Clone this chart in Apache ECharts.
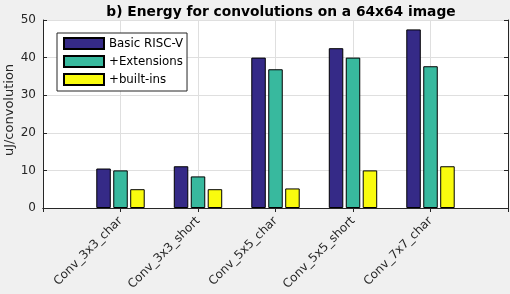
<!DOCTYPE html>
<html><head><meta charset="utf-8">
<script src="https://cdn.jsdelivr.net/npm/echarts@6/dist/echarts.min.js"></script>
<style>html,body{margin:0;padding:0;background:#f0f0f0}#c{width:510px;height:294px}</style>
</head><body><div id="c"></div>
<script>
const categories = ['Conv_3x3_char','Conv_3x3_short','Conv_5x5_char','Conv_5x5_short','Conv_7x7_char'];
const basicRiscV = [10.5, 11.1, 40.0, 42.5, 47.5];
const extensions = [10.0, 8.4, 36.9, 40.0, 37.7];
const builtIns = [5.0, 5.0, 5.2, 10.0, 11.1];
const yTicks = [0, 10, 20, 30, 40, 50];
const yAxisTitle = 'uJ/convolution';

const FONT = 'DejaVu Sans';
const pad = arr => [null, ...arr, null];
const axisCats = ['', ...categories, ''];
const chart = echarts.init(document.getElementById('c'), null, {renderer: 'canvas'});
const lineStyle = {color: '#262626', width: 1};
const barBase = (name, data, color) => ({
  name, type: 'bar', data: pad(data), barWidth: 14.5, barGap: '17%',
  itemStyle: {color, borderColor: '#000', borderWidth: 1},
  xAxisIndex: 0, yAxisIndex: 0, animation: false
});
chart.setOption({
  backgroundColor: '#f0f0f0',
  animation: false,
  title: {
    text: 'b) Energy for convolutions on a 64x64 image',
    left: 276, top: 0, textAlign: 'center',
    textStyle: {fontFamily: FONT, fontSize: 13.8, fontWeight: 'bold', color: '#000'}
  },
  graphic: [{
    type: 'text', x: 10, y: 110, rotation: Math.PI / 2,
    style: {text: yAxisTitle, font: '13px "DejaVu Sans"', fill: '#262626',
      align: 'center', verticalAlign: 'middle'}
  }],
  legend: {
    orient: 'vertical', left: 57, top: 33,
    itemWidth: 40, itemHeight: 11, itemGap: 5, itemTextGap: 5,
    padding: [4, 4, 5, 6],
    backgroundColor: '#fff', borderColor: '#262626', borderWidth: 1, borderRadius: 0,
    icon: 'rect',
    textStyle: {fontFamily: FONT, fontSize: 11.8, color: '#000'},
    data: ['Basic RISC-V', '+Extensions', '+built-ins']
  },
  grid: {left: 43, right: 2, top: 20, bottom: 86, show: true, backgroundColor: '#fff', borderWidth: 0,
    containLabel: false, outerBoundsMode: 'none'},
  xAxis: [{
    type: 'category', data: axisCats, boundaryGap: false,
    axisLine: {lineStyle}, axisTick: {inside: true, length: 4, interval: 0, lineStyle},
    splitLine: {show: true, interval: 0, lineStyle: {color: '#dfdfdf'}},
    axisLabel: {interval: 0, rotate: 45, margin: 11, fontFamily: FONT, fontSize: 12, color: '#262626'}
  }, {
    type: 'category', data: axisCats, boundaryGap: false, position: 'top',
    axisLine: {lineStyle}, axisTick: {inside: true, length: 4, interval: 0, lineStyle},
    axisLabel: {show: false}, splitLine: {show: false}
  }],
  yAxis: [{
    type: 'value', min: 0, max: 50, interval: 10,
    axisLine: {show: true, lineStyle}, axisTick: {show: true, inside: true, length: 4, lineStyle},
    splitLine: {show: true, lineStyle: {color: '#dfdfdf'}},
    axisLabel: {margin: 7, fontFamily: FONT, fontSize: 12, color: '#262626',
      formatter: v => yTicks.includes(v) ? String(v) : ''}
  }, {
    type: 'value', min: 0, max: 50, interval: 10, position: 'right',
    axisLine: {show: true, lineStyle}, axisTick: {show: true, inside: true, length: 4, lineStyle},
    axisLabel: {show: false}, splitLine: {show: false}
  }],
  series: [
    barBase('Basic RISC-V', basicRiscV, '#352a87'),
    barBase('+Extensions', extensions, '#38b99e'),
    barBase('+built-ins', builtIns, '#f9fb0e')
  ]
});
</script></body></html>
